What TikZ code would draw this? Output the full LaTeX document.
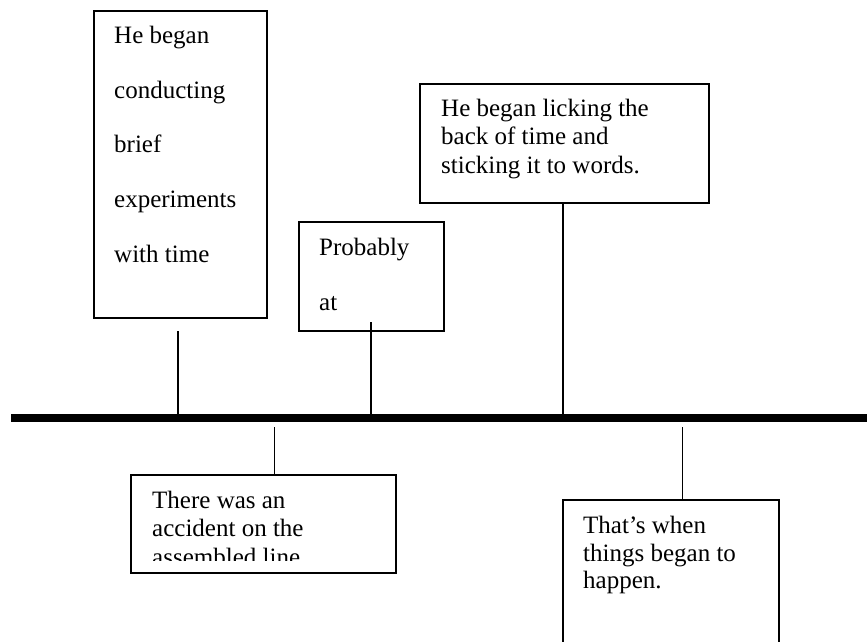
\documentclass[tikz,border=0pt]{standalone}
\usepackage{fontspec}
\setmainfont{Liberation Serif}
\begin{document}
\begin{tikzpicture}[x=1pt,y=-1pt,
  box/.style={draw, line width=1.6pt, rectangle, inner sep=0pt, anchor=north west},
  stem/.style={line width=1.6pt},
  axis/.style={line width=8pt},
  lbl/.style={anchor=base west, inner sep=0pt, font=\fontsize{25}{28}\selectfont}]
\useasboundingbox (0,0) rectangle (867,641);
\clip (0,0) rectangle (867,641);
% timeline
\coordinate (tl0) at (11,418);
\coordinate (tl1) at (867,418);
\draw[axis] (tl0) -- (tl1);
% boxes
\node[box, minimum width=173pt, minimum height=307pt] (b1) at (93,10) {};
\node[box, minimum width=145pt, minimum height=109pt] (b2) at (298,221) {};
\node[box, minimum width=289pt, minimum height=119pt] (b3) at (419,83) {};
\node[box, minimum width=265pt, minimum height=98pt] (b4) at (130,474) {};
\node[box, minimum width=216pt, minimum height=200pt] (b5) at (562,499) {};
% texts
\node[lbl] (t11) at (114,43.5) {He began};
\node[lbl] (t12) at (114,98.2) {conducting};
\node[lbl] (t13) at (114,152.9) {brief};
\node[lbl] (t14) at (114,207.6) {experiments};
\node[lbl] (t15) at (114,262.3) {with time};
\node[lbl] (t21) at (319,255) {Probably};
\node[lbl] (t22) at (319,310) {at};
\node[lbl] (t31) at (441,116.7) {He began licking the};
\node[lbl] (t32) at (441,144.5) {back of time and};
\node[lbl] (t33) at (441,173) {sticking it to words.};
\begin{scope}
  \clip (130,474) rectangle (395,560);
  \node[lbl] (t41) at (152,508.3) {There was an};
  \node[lbl] (t42) at (152,536.7) {accident on the};
  \node[lbl] (t43) at (152,565) {assembled line};
\end{scope}
\node[lbl] (t51) at (583,533.3) {That’s when};
\node[lbl] (t52) at (583,561.3) {things began to};
\node[lbl] (t53) at (583,588.8) {happen.};
% stems
\coordinate (s1a) at (178,331);
\coordinate (s1b) at (178,414);
\coordinate (s2a) at (371,322);
\coordinate (s2b) at (371,414);
\coordinate (s3a) at (563,202);
\coordinate (s3b) at (563,414);
\coordinate (s4a) at (274.5,427);
\coordinate (s4b) at (274.5,474);
\coordinate (s5a) at (682.5,427);
\coordinate (s5b) at (682.5,499);
\draw[stem] (s1a) -- (s1b);
\draw[stem] (s2a) -- (s2b);
\draw[stem] (s3a) -- (s3b);
\draw[stem] (s4a) -- (s4b);
\draw[stem] (s5a) -- (s5b);
\end{tikzpicture}
\end{document}
